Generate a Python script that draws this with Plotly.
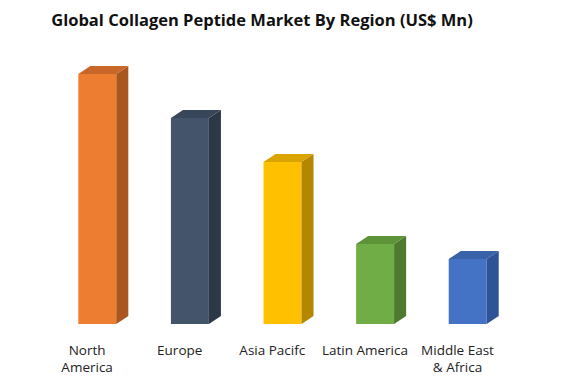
import plotly.graph_objects as go

regions = ["North<br>America", "Europe", "Asia Pacifc", "Latin America", "Middle East<br>& Africa"]
values = [250, 206, 162, 80, 65]
front_colors = ["#ED7D31", "#44546A", "#FFC000", "#70AD47", "#4472C4"]
side_colors = ["#A9571F", "#2C3848", "#B38700", "#4D7A2F", "#2E5396"]
top_colors = ["#C9672A", "#38465A", "#D9A300", "#5E9339", "#3A62A8"]

bar_w = 0.41
dx = 0.13
dy = 8
label_shift = 0.11

fig = go.Figure()
xs = list(range(len(regions)))

for i, v in enumerate(values):
    xl, xr = i - bar_w / 2, i + bar_w / 2
    # side face
    fig.add_trace(go.Scatter(
        x=[xr, xr + dx, xr + dx, xr, xr], y=[0, dy, v + dy, v, 0],
        fill="toself", fillcolor=side_colors[i], mode="lines",
        line=dict(width=0), hoverinfo="skip", showlegend=False))
    # top face
    fig.add_trace(go.Scatter(
        x=[xl, xr, xr + dx, xl + dx, xl], y=[v, v, v + dy, v + dy, v],
        fill="toself", fillcolor=top_colors[i], mode="lines",
        line=dict(width=0), hoverinfo="skip", showlegend=False))

fig.add_trace(go.Bar(x=xs, y=values, width=bar_w, marker=dict(color=front_colors, line=dict(width=0)),
                     showlegend=False, hoverinfo="skip"))

fig.update_layout(
    width=576, height=384,
    margin=dict(l=43, r=70, t=46, b=68),
    paper_bgcolor="white", plot_bgcolor="white",
    title=dict(text="<b>Global Collagen Peptide Market By Region (US$ Mn)</b>",
               x=254 / 576, xanchor="center", y=1 - 12 / 384, yanchor="middle",
               font=dict(family="Open Sans", size=16.5, color="#111111")),
    xaxis=dict(range=[-0.5, 4.5], tickvals=[x - label_shift for x in xs], ticktext=regions,
               showgrid=False, zeroline=False, showline=False, ticks="", ticklabelstandoff=16,
               tickfont=dict(family="Open Sans", size=13.5, color="#222222")),
    yaxis=dict(range=[0, 270], showgrid=False, zeroline=False, showline=False,
               showticklabels=False, ticks=""),
)

fig.write_html("out.html")
